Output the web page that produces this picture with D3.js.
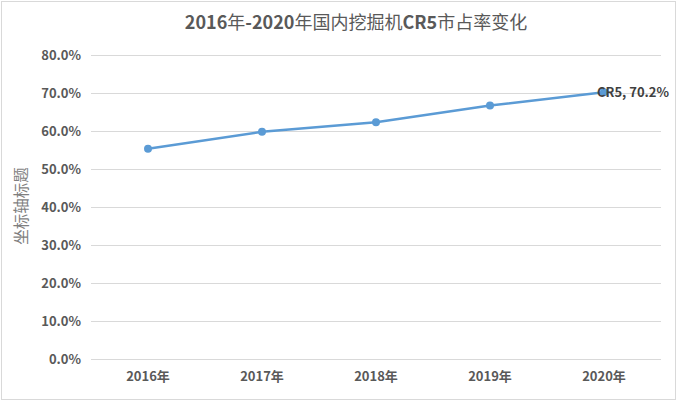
<!DOCTYPE html>
<html><head><meta charset="utf-8">
<script src="https://cdn.jsdelivr.net/npm/d3@7"></script>
<style>body{margin:0;background:#fff;} svg{display:block;}</style>
</head><body>
<script>
const categories = ["2016年","2017年","2018年","2019年","2020年"];
const seriesName = "CR5";
const values = [0.553, 0.598, 0.623, 0.667, 0.702];
const yTicks = [0,0.1,0.2,0.3,0.4,0.5,0.6,0.7,0.8];
const title = "2016年-2020年国内挖掘机CR5市占率变化";
const yTitle = "坐标轴标题";

const W=677,H=401;
const svg=d3.select("body").append("svg").attr("width",W).attr("height",H);
svg.append("rect").attr("x",1.5).attr("y",1.5).attr("width",W-3).attr("height",H-3).attr("fill","#fff").attr("stroke","#d9d9d9");
const x=d3.scaleBand().domain(categories).range([91,661]);
const y=d3.scaleLinear().domain([0,0.8]).range([359,55]);
const font="'Noto Sans CJK SC','Liberation Sans',sans-serif";

const tt=svg.append("text").attr("x",356).attr("y",29).attr("text-anchor","middle")
 .attr("font-family",font).attr("font-size",18).attr("fill","#595959");
title.match(/[\x00-\x7f]+|[^\x00-\x7f]+/g).forEach(s=>{
  tt.append("tspan").attr("font-weight",/[\x00-\x7f]/.test(s)?"bold":"normal").text(s);
});

const ya=svg.append("g").attr("transform","translate(91,0)")
 .call(d3.axisLeft(y).tickValues(yTicks).tickSize(-570).tickPadding(10).tickFormat(d3.format(".1%")));
ya.select(".domain").remove();
ya.selectAll(".tick line").attr("stroke","#d9d9d9");
ya.selectAll(".tick text").attr("font-family",font).attr("font-size",13).attr("font-weight","bold").attr("fill","#595959");

const xa=svg.append("g").attr("transform","translate(0,359)")
 .call(d3.axisBottom(x).tickSize(0).tickPadding(13));
xa.select(".domain").remove();
xa.selectAll(".tick text").attr("font-family",font).attr("font-size",13).attr("font-weight","bold").attr("fill","#595959");

svg.append("text").attr("transform","translate(27,206) rotate(-90)").attr("text-anchor","middle")
 .attr("font-family",font).attr("font-size",15.5).attr("fill","#7f7f7f").text(yTitle);

const cx=(d,i)=>x(categories[i])+x.bandwidth()/2;
svg.append("path").datum(values).attr("fill","none").attr("stroke","#5b9bd5").attr("stroke-width",2.5)
 .attr("d",d3.line().x(cx).y(d=>y(d)));
svg.selectAll("circle.pt").data(values).enter().append("circle").attr("class","pt")
 .attr("cx",cx).attr("cy",d=>y(d)).attr("r",4).attr("fill","#5b9bd5");

const li=values.length-1;
svg.append("text").attr("x",cx(values[li],li)-7).attr("y",y(values[li])+5)
 .attr("font-family",font).attr("font-size",13).attr("font-weight","bold").attr("fill","#404040")
 .text(seriesName+", "+d3.format(".1%")(values[li]));
</script>
</body></html>
